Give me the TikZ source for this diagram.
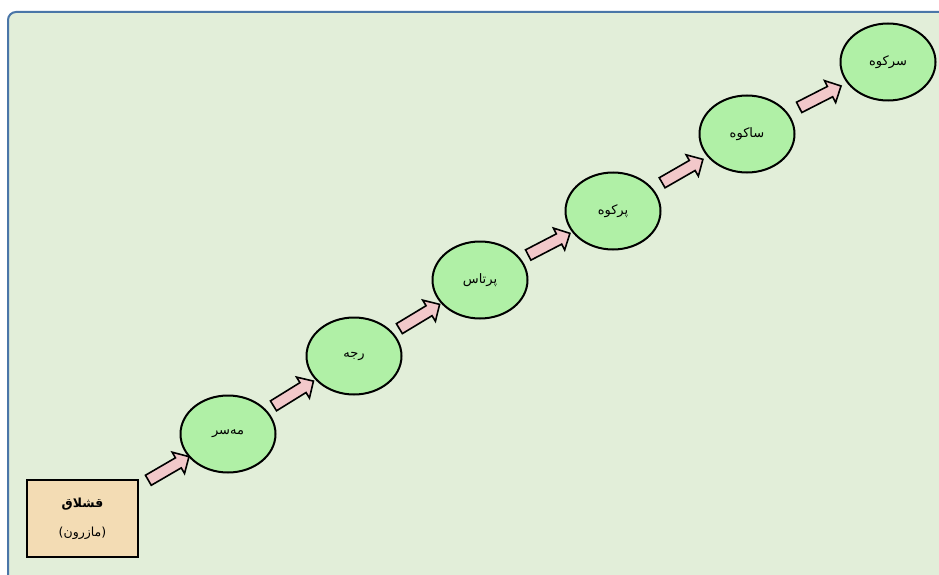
\documentclass[tikz,border=0pt]{standalone}
\usepackage{fontspec}
\usetikzlibrary{shapes.geometric,shapes.arrows}
\newfontfamily\arabicfont[Script=Arabic]{DejaVu Sans}
\TeXXeTstate=1
\definecolor{pagegreen}{RGB}{226,238,217}
\definecolor{framebleu}{RGB}{74,118,168}
\definecolor{stagegreen}{RGB}{176,240,166}
\definecolor{wheatbox}{RGB}{243,220,180}
\definecolor{arrowpink}{RGB}{242,200,202}

\tikzset{
	stage/.style={ellipse,
		draw=black,
		line width=2pt,
		fill=stagegreen,
		minimum width=95pt,
		minimum height=77pt,
		inner sep=0pt,
		font=\arabicfont\fontsize{13}{15}\selectfont},
	flow/.style={single arrow,
		draw=black,
		line width=1.6pt,
		fill=arrowpink,
		minimum height=47pt,
		inner sep=5pt,
		single arrow head extend=6.5pt,
		single arrow head indent=0pt,
		sloped}
}

\begin{document}
\begin{tikzpicture}[x=1pt,y=-1pt]
	\useasboundingbox (0,0) rectangle (939,575);
	\fill[white] (0,0) rectangle (939,575);
	\begin{scope}
		\clip (0,0) rectangle (939,575);
		\draw[framebleu, line width=2pt, fill=pagegreen, rounded corners=8pt] (8,12) rectangle (965,600);
	\end{scope}

	% point de depart
	\node[rectangle,
		draw=black,
		line width=1.7pt,
		fill=wheatbox,
		minimum width=111pt,
		minimum height=77pt,
		align=center,
		font=\arabicfont\fontsize{12.5}{14}\selectfont] (qeshlaq) at (82.5,518.5) {
			\textbf{\beginR قشلاق\endR}\\[15pt]
			\beginR (مازرون)\endR
		};

	% etapes
	\node[stage] (masar) at (228,434) {\beginR مه‌سر\endR};
	\node[stage] (rajeh) at (354,356) {\beginR رجه\endR};
	\node[stage] (portas) at (480,280) {\beginR پرتاس\endR};
	\node[stage] (porkuh) at (613,211) {\beginR پرکوه\endR};
	\node[stage] (sakuh) at (747,134) {\beginR ساکوه\endR};
	\node[stage] (sarkuh) at (888,62) {\beginR سرکوه\endR};

	% fleches
	\path (qeshlaq) -- node[flow, pos=0.55] {} (masar);
	\path (masar) -- node[flow] {} (rajeh);
	\path (rajeh) -- node[flow] {} (portas);
	\path (portas) -- node[flow] {} (porkuh);
	\path (porkuh) -- node[flow] {} (sakuh);
	\path (sakuh) -- node[flow] {} (sarkuh);
\end{tikzpicture}
\end{document}
